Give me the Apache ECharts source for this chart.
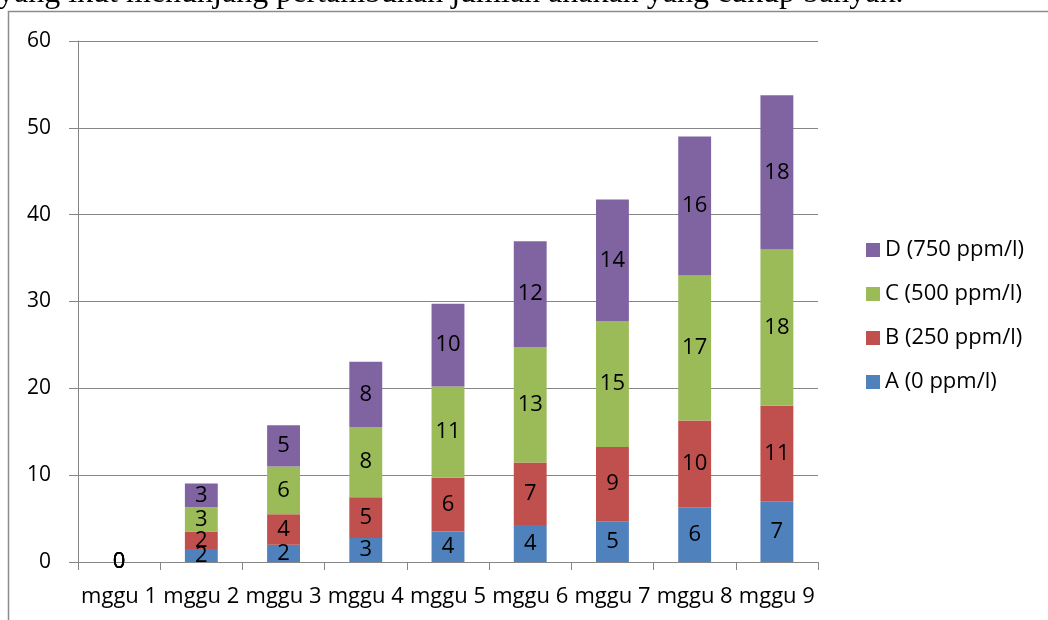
<!DOCTYPE html>
<html>
<head>
<meta charset="utf-8">
<script src="https://cdn.jsdelivr.net/npm/echarts@6/dist/echarts.min.js"></script>
<style>
  html, body { margin: 0; padding: 0; background: #fff; }
  #main { width: 1048px; height: 620px; }
</style>
</head>
<body>
<div id="main"></div>
<script>
// kategori minggu
var minggu = ['mggu 1', 'mggu 2', 'mggu 3', 'mggu 4', 'mggu 5', 'mggu 6', 'mggu 7', 'mggu 8', 'mggu 9'];
// jumlah anakan per perlakuan
var dataA = [0, 1.5, 2.0, 2.75, 3.5, 4.25, 4.7, 6.3, 7.0];
var dataB = [0, 2.0, 3.5, 4.7, 6.2, 7.2, 8.55, 10.0, 11.0];
var dataC = [0, 2.8, 5.5, 8.1, 10.5, 13.3, 14.5, 16.7, 18.0];
var dataD = [0, 2.75, 4.75, 7.5, 9.55, 12.2, 14.0, 16.0, 17.75];
var namaSeri = ['A (0 ppm/l)', 'B (250 ppm/l)', 'C (500 ppm/l)', 'D (750 ppm/l)'];
var warna = ['#4F81BD', '#C0504D', '#9BBB59', '#8064A2'];
var teksAtas = 'yang ikut menunjang pertambuhan jumlah anakan yang cukup banyak.';

var font = '"Open Sans", "Noto Sans", sans-serif';
var myChart = echarts.init(document.getElementById('main'));

function seri(i, data) {
  return {
    name: namaSeri[i],
    type: 'bar',
    stack: 'total',
    barWidth: '40%',
    data: data,
    itemStyle: { color: warna[i] },
    label: {
      show: true,
      position: 'inside',
      color: '#000',
      fontSize: 22,
      fontFamily: font,
      formatter: function (p) { return Math.round(p.value); }
    }
  };
}

var option = {
  animation: false,
  textStyle: { fontFamily: font },
  graphic: [
    {
      type: 'polyline',
      shape: { points: [[8.5, 620], [8.5, 11.5], [1048, 11.5]] },
      style: { stroke: '#8c8c8c', lineWidth: 1.5, fill: null },
      silent: true
    },
    {
      type: 'text',
      left: -2,
      top: -22,
      style: {
        text: teksAtas,
        font: '32px "Liberation Serif", "DejaVu Serif", serif',
        fill: '#000'
      },
      silent: true
    }
  ],
  legend: {
    orient: 'vertical',
    left: 861,
    top: 234,
    itemWidth: 14,
    itemHeight: 14,
    itemGap: 22,
    icon: 'rect',
    data: [namaSeri[3], namaSeri[2], namaSeri[1], namaSeri[0]],
    textStyle: { fontSize: 22, color: '#000', fontFamily: font }
  },
  grid: {
    left: 78,
    right: 230,
    top: 41,
    bottom: 58,
    containLabel: false
  },
  xAxis: {
    type: 'category',
    data: minggu,
    axisLine: { lineStyle: { color: '#868686', width: 1 } },
    axisTick: { show: true, length: 8, lineStyle: { color: '#868686' } },
    axisLabel: { color: '#000', fontSize: 22, margin: 24, fontFamily: font, interval: 0 }
  },
  yAxis: {
    type: 'value',
    min: 0,
    max: 60,
    interval: 10,
    axisLine: { show: true, lineStyle: { color: '#868686', width: 1 } },
    axisTick: { show: true, length: 9, inside: false, lineStyle: { color: '#868686' } },
    axisLabel: { color: '#000', fontSize: 21, margin: 27, fontFamily: font },
    splitLine: { lineStyle: { color: '#868686', width: 1 } }
  },
  series: [seri(0, dataA), seri(1, dataB), seri(2, dataC), seri(3, dataD)]
};

myChart.setOption(option);
</script>
</body>
</html>
